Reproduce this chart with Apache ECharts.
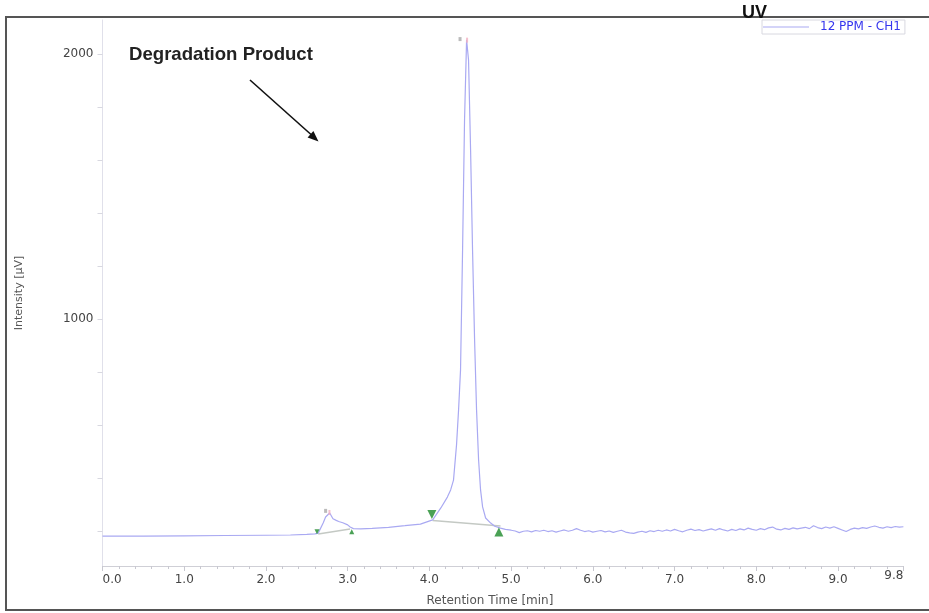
<!DOCTYPE html>
<html>
<head>
<meta charset="utf-8">
<style>html,body{margin:0;padding:0;background:#fff;}#c{width:929px;height:613px;}</style>
<script src="https://cdn.jsdelivr.net/npm/echarts@6/dist/echarts.min.js"></script>
</head>
<body>
<div id="c"></div>
<script>
// ---- data ----
const seriesName = '12 PPM - CH1';
const xLabels = [0, 1, 2, 3, 4, 5, 6, 7, 8, 9];
const xEndLabel = [9.8];
const yLabels = [1000, 2000];
const yTicks = [200, 400, 600, 800, 1000, 1200, 1400, 1600, 1800, 2000];
const trace = [
  [0.00,181],[0.50,181],[1.00,182],[1.50,183],[2.00,184],[2.30,185],[2.50,187],[2.60,189],
  [2.64,192],[2.70,230],[2.73,253],[2.78,268],[2.80,262],[2.82,246],[2.86,240],[2.89,236],
  [2.94,231],[3.00,223],[3.03,215],[3.07,209],[3.16,208],[3.30,210],[3.50,214],[3.70,220],
  [3.89,226],[4.04,242],[4.14,287],[4.22,328],[4.26,355],[4.295,392],[4.332,525],[4.357,657],
  [4.381,808],[4.406,1260],[4.430,1751],[4.455,2053],[4.461,2060],[4.479,1977],[4.504,1638],
  [4.528,1260],[4.553,921],[4.577,657],[4.602,468],[4.626,355],[4.651,291],[4.688,249],
  [4.75,230],[4.80,218],[4.87,211],[4.93,206],
  [5.00,203],[5.05,200],[5.10,194],[5.15,199],[5.20,201],[5.25,197],[5.30,202],[5.35,199],
  [5.40,203],[5.45,198],[5.50,201],[5.55,196],[5.60,200],[5.65,204],[5.70,199],[5.75,203],
  [5.80,209],[5.85,203],[5.90,198],[5.95,201],[6.00,196],[6.05,199],[6.10,202],[6.15,197],
  [6.20,200],[6.25,195],[6.30,199],[6.35,203],[6.40,196],[6.45,193],[6.50,191],[6.55,196],
  [6.60,199],[6.65,195],[6.70,201],[6.75,198],[6.80,203],[6.85,199],[6.90,204],[6.95,200],
  [7.00,206],[7.05,201],[7.10,197],[7.15,203],[7.20,207],[7.25,202],[7.30,205],[7.35,200],
  [7.40,204],[7.45,208],[7.50,203],[7.55,209],[7.60,204],[7.65,200],[7.70,206],[7.75,202],
  [7.80,208],[7.85,204],[7.90,211],[7.95,206],[8.00,203],[8.05,209],[8.10,205],[8.15,212],
  [8.20,215],[8.25,207],[8.30,204],[8.35,210],[8.40,206],[8.45,212],[8.50,208],[8.55,211],
  [8.60,214],[8.65,209],[8.70,220],[8.75,213],[8.80,209],[8.85,215],[8.90,211],[8.95,216],
  [9.00,210],[9.05,204],[9.10,198],[9.15,206],[9.20,211],[9.25,208],[9.30,213],[9.35,210],
  [9.40,215],[9.45,219],[9.50,214],[9.55,211],[9.60,216],[9.65,213],[9.70,217],[9.75,215],
  [9.80,216]
];
const baseline1 = [[2.64,189],[3.03,208]];
const baseline2 = [[4.04,240],[4.87,219]];
const markStartSmall = [[2.625,197]];
const markEndSmall = [[3.05,197]];
const markStartMain = [[4.03,262]];
const markEndMain = [[4.85,196]];
const peakTags = [[2.73,276],[4.375,2056]];
const apexTips = [[2.777,270],[4.461,2052]];

// ---- chart ----
const chart = echarts.init(document.getElementById('c'), null, {renderer: 'canvas'});
const lblFont = {fontFamily: 'DejaVu Sans', fontSize: 12, color: '#444'};
const option = {
  animation: false,
  backgroundColor: '#fff',
  title: {
    text: 'UV', left: 742, top: 4, padding: 0, z: 20,
    textStyle: {fontFamily: 'Liberation Sans', fontWeight: 'bold', fontSize: 18, color: '#111'}
  },
  legend: {
    data: [seriesName], left: 762, top: 20, z: 20,
    orient: 'horizontal', icon: 'rect', itemWidth: 46, itemHeight: 1, itemGap: 4,
    padding: [1, 4, 1, 1], borderColor: '#d8d8e0', borderWidth: 1, backgroundColor: '#fff',
    textStyle: {fontFamily: 'DejaVu Sans', fontSize: 12, color: '#3535ee', padding: [0, 0, 0, 6]}
  },
  grid: {left: 102.5, right: 25.6, top: 20, bottom: 47, containLabel: false},
  xAxis: [{
    type: 'value', min: 0, max: 9.8, interval: 1, position: 'bottom',
    name: 'Retention Time [min]', nameLocation: 'middle', nameGap: 29,
    nameTextStyle: {fontFamily: 'DejaVu Sans', fontSize: 12, color: '#555', padding: [0, 26, 0, 0]},
    axisLine: {show: true, lineStyle: {color: '#cfcfd6', width: 1}},
    axisTick: {show: true, length: 5, inside: false, lineStyle: {color: '#c8c8d0'}},
    minorTick: {show: true, splitNumber: 5, length: 3, lineStyle: {color: '#c8c8d0'}},
    splitLine: {show: false},
    axisLabel: Object.assign({customValues: xLabels, align: 'center', alignMinLabel: 'left', margin: 8,
      formatter: v => v.toFixed(1)}, lblFont)
  }, {
    type: 'value', min: 0, max: 9.8, position: 'bottom',
    axisLine: {show: false}, axisTick: {show: false}, splitLine: {show: false},
    axisLabel: Object.assign({customValues: xEndLabel, align: 'right', margin: 4,
      formatter: v => v.toFixed(1)}, lblFont)
  }],
  yAxis: {
    type: 'value', min: 68, max: 2128,
    name: 'Intensity [µV]', nameLocation: 'middle', nameGap: 78, nameRotate: 90,
    nameTextStyle: {fontFamily: 'DejaVu Sans', fontSize: 11, color: '#555'},
    axisLine: {show: true, lineStyle: {color: '#e0e0ea', width: 1}},
    axisTick: {show: true, customValues: yTicks, length: 5, lineStyle: {color: '#d8d8e0'}},
    splitLine: {show: false},
    axisLabel: Object.assign({customValues: yLabels, margin: 9, formatter: v => String(v)}, lblFont)
  },
  series: [
    {
      name: seriesName, type: 'line', data: trace, showSymbol: false, symbol: 'none',
      lineStyle: {color: '#a9a9f2', width: 1.2}, itemStyle: {color: '#a9a9f2'}, z: 3
    },
    {type: 'line', data: baseline1, symbol: 'none', lineStyle: {color: '#c4c9c4', width: 1.5}, z: 2},
    {type: 'line', data: baseline2, symbol: 'none', lineStyle: {color: '#c4c9c4', width: 1.5}, z: 2},
    {type: 'scatter', data: markStartSmall, symbol: 'triangle', symbolRotate: 180, symbolSize: 5, itemStyle: {color: '#1d8a2a'}, z: 5},
    {type: 'scatter', data: markEndSmall, symbol: 'triangle', symbolSize: 5, itemStyle: {color: '#1d8a2a'}, z: 5},
    {type: 'scatter', data: markStartMain, symbol: 'triangle', symbolRotate: 180, symbolSize: 9, itemStyle: {color: '#1d8a2a'}, z: 5},
    {type: 'scatter', data: markEndMain, symbol: 'triangle', symbolSize: 9, itemStyle: {color: '#1d8a2a'}, z: 5},
    {type: 'scatter', data: peakTags, symbol: 'rect', symbolSize: [3, 4], itemStyle: {color: '#aaaaaa'}, z: 5},
    {type: 'scatter', data: apexTips, symbol: 'rect', symbolSize: [2, 5], itemStyle: {color: '#f2b0c0'}, z: 5}
  ],
  graphic: [
    {type: 'line', z: 10, shape: {x1: 5, y1: 17, x2: 929, y2: 17}, style: {stroke: '#555', lineWidth: 2}},
    {type: 'line', z: 10, shape: {x1: 6, y1: 16, x2: 6, y2: 611}, style: {stroke: '#555', lineWidth: 2}},
    {type: 'line', z: 10, shape: {x1: 5, y1: 610, x2: 929, y2: 610}, style: {stroke: '#555', lineWidth: 2}},
    {type: 'text', z: 10, left: 129, top: 45,
      style: {text: 'Degradation Product', font: 'bold 18.6px "Liberation Sans"', fill: '#222'}},
    {type: 'line', z: 10, shape: {x1: 250, y1: 80, x2: 311, y2: 134.5}, style: {stroke: '#111', lineWidth: 1.6}},
    {type: 'polygon', z: 10, shape: {points: [[318.5, 141.5], [307.6, 137.6], [313.4, 131.1]]}, style: {fill: '#111'}}
  ]
};
chart.setOption(option);
</script>
</body>
</html>
